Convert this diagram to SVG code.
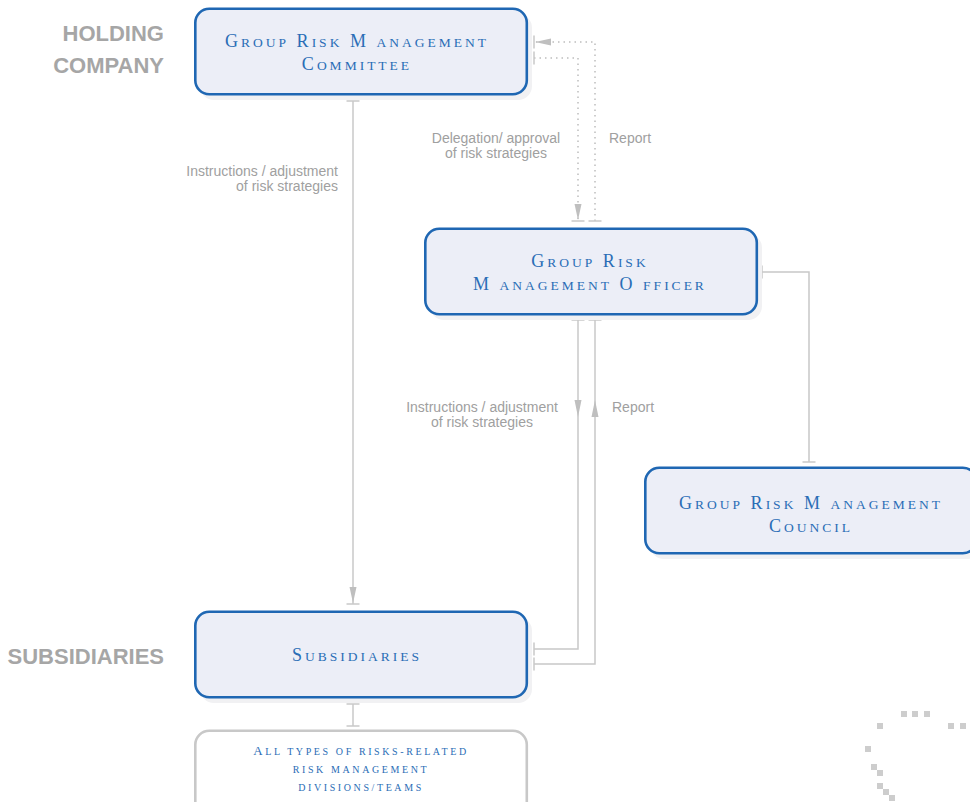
<svg xmlns="http://www.w3.org/2000/svg" width="970" height="802" viewBox="0 0 970 802">
<style>
.box{fill:#eceef7;stroke:#1f67b3;stroke-width:2.6}
.box2{fill:#ffffff;stroke:#c8c8c8;stroke-width:2.6}
.shadow{fill:#f1f1f3}
.nt{font-family:"Liberation Serif","DejaVu Serif",serif;fill:#2a6db6;letter-spacing:3px;text-anchor:middle;font-size:18px}
.nt .s{font-size:13.5px}
.nt2{font-family:"Liberation Serif","DejaVu Serif",serif;fill:#2a6db6;letter-spacing:2.6px;text-anchor:middle;font-size:13px}
.nt2 .s{font-size:10px}
.side{font-family:"Liberation Sans",Arial,sans-serif;font-weight:bold;font-size:22px;fill:#a6a6a6;text-anchor:end}
.lbl{font-family:"Liberation Sans",Arial,sans-serif;font-size:14px;fill:#a0a0a0}
.ln{fill:none;stroke:#c8c8c8;stroke-width:1.5}
.dot{fill:none;stroke:#bdbdbd;stroke-width:1.5;stroke-dasharray:1.5 4}
.deco{fill:#cdcdcd}
</style>
<defs>
<marker id="tee" markerUnits="userSpaceOnUse" orient="auto" refX="0" refY="0" markerWidth="20" markerHeight="20" overflow="visible">
<path d="M0,-6.5 V6.5" stroke="#c8c8c8" stroke-width="1.5" fill="none"/>
</marker>
<marker id="arrowtee" markerUnits="userSpaceOnUse" orient="auto" refX="0" refY="0" markerWidth="20" markerHeight="20" overflow="visible">
<path d="M0,-6.5 V6.5" stroke="#c8c8c8" stroke-width="1.5" fill="none"/>
<path d="M-1,0 L-17,-3.5 L-17,3.5 Z" fill="#bfbfbf"/>
</marker>
<marker id="arrow" markerUnits="userSpaceOnUse" orient="auto" refX="0" refY="0" markerWidth="20" markerHeight="20" overflow="visible">
<path d="M0,0 L-17,-3.5 L-17,3.5 Z" fill="#bfbfbf"/>
</marker>
</defs>

<g id="side-labels">
<text class="side" x="164" y="41">HOLDING</text>
<text class="side" x="164" y="73">COMPANY</text>
<text class="side" x="164" y="664">SUBSIDIARIES</text>
</g>

<g id="connectors">
<path class="ln" d="M353,101 V604" marker-start="url(#tee)" marker-end="url(#arrowtee)"/>
<path class="dot" d="M534,58 H578 V221" marker-start="url(#tee)" marker-end="url(#arrowtee)"/>
<path class="dot" d="M595,221 V42 H534" marker-start="url(#tee)" marker-end="url(#arrowtee)"/>
<path class="ln" d="M578,320 V417" marker-start="url(#tee)" marker-end="url(#arrow)"/>
<path class="ln" d="M578,417 V649 H534" marker-end="url(#tee)"/>
<path class="ln" d="M534,664 H595 V400" marker-start="url(#tee)" marker-end="url(#arrow)"/>
<path class="ln" d="M595,400 V320" marker-end="url(#tee)"/>
<path class="ln" d="M762,272 H809 V462" marker-start="url(#tee)" marker-end="url(#tee)"/>
<path class="ln" d="M353,704 V726" marker-start="url(#tee)" marker-end="url(#tee)"/>
</g>

<g id="connector-labels">
<text class="lbl" x="338" y="176" text-anchor="end">Instructions / adjustment</text>
<text class="lbl" x="338" y="191" text-anchor="end">of risk strategies</text>
<text class="lbl" x="496" y="143" text-anchor="middle">Delegation/ approval</text>
<text class="lbl" x="496" y="158" text-anchor="middle">of risk strategies</text>
<text class="lbl" x="609" y="143">Report</text>
<text class="lbl" x="482" y="412" text-anchor="middle">Instructions / adjustment</text>
<text class="lbl" x="482" y="427" text-anchor="middle">of risk strategies</text>
<text class="lbl" x="612" y="412">Report</text>
</g>

<g id="node-committee">
<rect class="shadow" x="200" y="14" width="332" height="86" rx="14"/>
<rect class="box" x="195.3" y="8.8" width="331.5" height="85.5" rx="14"/>
<text class="nt" x="357" y="47">G<tspan class="s">ROUP</tspan> R<tspan class="s">ISK</tspan> M <tspan class="s">ANAGEMENT</tspan></text>
<text class="nt" x="357" y="70">C<tspan class="s">OMMITTEE</tspan></text>
</g>

<g id="node-officer">
<rect class="shadow" x="430" y="234" width="332" height="86" rx="14"/>
<rect class="box" x="425.3" y="228.8" width="331.5" height="85.5" rx="14"/>
<text class="nt" x="590" y="267">G<tspan class="s">ROUP</tspan> R<tspan class="s">ISK</tspan></text>
<text class="nt" x="590" y="290">M <tspan class="s">ANAGEMENT</tspan> O <tspan class="s">FFICER</tspan></text>
</g>

<g id="node-council">
<rect class="shadow" x="650" y="473" width="332" height="86" rx="14"/>
<rect class="box" x="645.3" y="467.8" width="331.5" height="85.5" rx="14"/>
<text class="nt" x="811" y="509">G<tspan class="s">ROUP</tspan> R<tspan class="s">ISK</tspan> M <tspan class="s">ANAGEMENT</tspan></text>
<text class="nt" x="811" y="532">C<tspan class="s">OUNCIL</tspan></text>
</g>

<g id="node-subsidiaries">
<rect class="shadow" x="200" y="617" width="332" height="86" rx="14"/>
<rect class="box" x="195.3" y="611.8" width="331.5" height="85.5" rx="14"/>
<text class="nt" x="357" y="661">S<tspan class="s">UBSIDIARIES</tspan></text>
</g>

<g id="node-divisions">
<rect class="box2" x="195.3" y="730.8" width="331.5" height="85.5" rx="14"/>
<text class="nt2" x="361" y="755">A<tspan class="s">LL TYPES OF RISKS-RELATED</tspan></text>
<text class="nt2" x="361" y="773"><tspan class="s">RISK MANAGEMENT</tspan></text>
<text class="nt2" x="361" y="791"><tspan class="s">DIVISIONS/TEAMS</tspan></text>
</g>

<g id="decoration">
<rect class="deco" x="901" y="711" width="6" height="6"/>
<rect class="deco" x="912" y="711" width="6" height="6"/>
<rect class="deco" x="924" y="711" width="6" height="6"/>
<rect class="deco" x="877" y="723" width="6" height="6"/>
<rect class="deco" x="948" y="723" width="6" height="6"/>
<rect class="deco" x="960" y="723" width="6" height="6"/>
<rect class="deco" x="865" y="746" width="6" height="6"/>
<rect class="deco" x="871" y="764" width="6" height="6"/>
<rect class="deco" x="877" y="770" width="6" height="6"/>
<rect class="deco" x="877" y="783" width="6" height="6"/>
<rect class="deco" x="883" y="789" width="6" height="6"/>
<rect class="deco" x="889" y="795" width="6" height="6"/>
</g>
</svg>
